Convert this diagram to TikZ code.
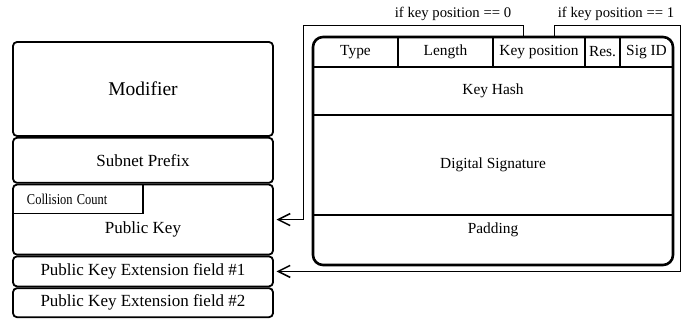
\documentclass[tikz,border=0pt]{standalone}
\usepackage{fontspec}
\setmainfont{Liberation Serif}
\usetikzlibrary{positioning,calc,arrows.meta}

\tikzset{
  field/.style={draw, line width=1.8pt, rounded corners=4pt, inner sep=0pt, outer sep=0pt,
    minimum width=260pt, font=\fontsize{17pt}{20pt}\selectfont},
  cell/.style={anchor=north west, inner sep=0pt, outer sep=0pt,
    font=\fontsize{15.4pt}{18pt}\selectfont},
  sep/.style={line width=2pt},
  note/.style={inner sep=0pt, font=\fontsize{14.7pt}{17pt}\selectfont},
  link/.style={line width=0.9pt, shorten >=3.5pt,
    -{Straight Barb[length=12pt,width=12pt,line width=1.5pt]}},
}

\begin{document}
\begin{tikzpicture}[x=1pt,y=-1pt,node distance=1.8pt]
  \useasboundingbox (0,0) rectangle (698,320);
  % left column: the address fields
  \node[field, anchor=north west, minimum height=94pt,
    font=\fontsize{19.5pt}{22pt}\selectfont] (modifier) at (13,42) {Modifier};
  \node[field, minimum height=45pt, below=of modifier] (subnet) {Subnet Prefix};
  \node[field, minimum height=70pt, below=of subnet] (pubkey) {};
  \node[field, minimum height=30pt, below=of pubkey] (ext1) {Public Key Extension field \#1};
  \node[field, minimum height=29pt, below=of ext1] (ext2) {Public Key Extension field \#2};
  \node[font=\fontsize{17pt}{20pt}\selectfont] (pubkeytext)
    at ([yshift=-10pt]pubkey.center) {Public Key};
  \node[cell, minimum height=29pt, text width=102pt, inner xsep=14pt, align=left,
    font=\fontsize{15pt}{17pt}\selectfont] (collision) at (pubkey.north west)
    {\scalebox{0.83}[1]{Collision Count}};
  \draw[line width=1.8pt] (collision.north east) -- (collision.south east)
    -- (collision.south west);

  % right: the extension field
  \node[draw, line width=2.6pt, rounded corners=10pt, anchor=north west, outer sep=0pt,
    minimum width=360pt, minimum height=228pt] (sigopt) at (313,37) {};
  \node[cell, minimum width=85pt, minimum height=30pt] (type) at (313,37) {Type};
  \node[cell, minimum width=95pt, minimum height=30pt, right=0pt of type] (length) {Length};
  \node[cell, minimum width=92pt, minimum height=30pt, right=0pt of length] (keypos) {Key position};
  \node[cell, minimum width=35pt, minimum height=30pt, right=0pt of keypos] (res) {Res.};
  \node[cell, minimum width=53pt, minimum height=30pt, right=0pt of res] (sigid) {Sig ID};
  \node[cell, minimum width=360pt, minimum height=48pt] (keyhash) at (type.south west) {Key Hash};
  \node[cell, minimum width=360pt, minimum height=100pt] (digsig) at (keyhash.south west) {Digital Signature};
  \node[cell, minimum width=360pt, minimum height=30pt] (padding) at (digsig.south west) {Padding};
  \foreach \c in {type,length,keypos,res}
    \draw[sep] (\c.north east) -- (\c.south east);
  \foreach \r in {keyhash,digsig,padding}
    \draw[sep] (\r.north west) -- (\r.north east);

  % key position connectors
  \coordinate (k0) at ($(keypos.north west)!0.33!(keypos.north east)$);
  \coordinate (k1) at ($(keypos.north west)!0.67!(keypos.north east)$);
  \node[note] (cond0) at (453,14) {if key position == 0};
  \node[note] (cond1) at (616,14) {if key position == 1};
  \draw[link] (k0) |- (303,25) |- (pubkey.east);
  \draw[link] (k1) |- (680,25) |- (ext1.east);
\end{tikzpicture}
\end{document}
